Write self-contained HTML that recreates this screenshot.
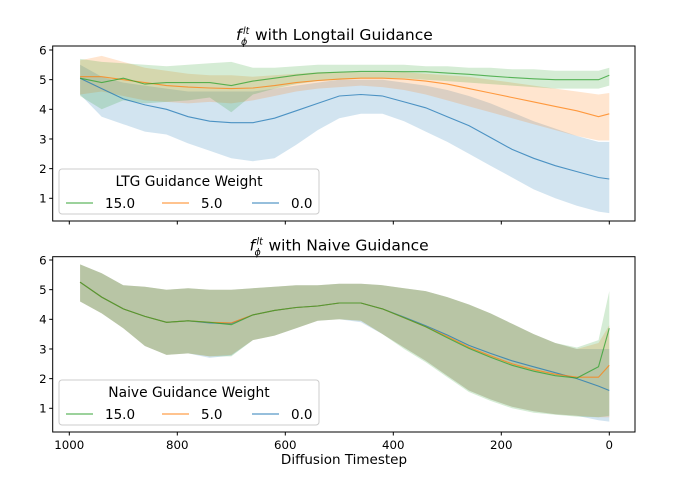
<!DOCTYPE html>
<html><head><meta charset="utf-8">
<style>
body{margin:0;background:#fff;}
svg{display:block;font-family:"DejaVu Sans","Liberation Sans",sans-serif;}
</style></head>
<body>
<svg id="chart" width="682" height="485" viewBox="0 0 682 485"></svg>
<script>
const timesteps=[980,940,900,860,820,780,740,700,660,620,580,540,500,460,420,380,340,300,260,220,180,140,100,60,20,0];
const yTicks=[1,2,3,4,5,6];
const xTicks=[1000,800,600,400,200,0];
const seriesLabels=["15.0","5.0","0.0"];
const colors=["#2ca02c","#ff7f0e","#1f77b4"];
// top panel (Longtail guidance)
const topGreenMean=[5.05,4.9,5.05,4.85,4.9,4.9,4.9,4.8,4.95,5.05,5.15,5.22,5.25,5.28,5.28,5.27,5.27,5.22,5.18,5.12,5.07,5.03,5.0,5.0,5.0,5.15];
const topGreenLo=[4.45,4.0,4.3,4.2,4.25,4.3,4.4,3.9,4.5,4.7,4.85,4.95,5.0,5.05,5.05,5.05,5.0,4.95,4.9,4.85,4.8,4.75,4.7,4.7,4.7,4.8];
const topGreenHi=[5.7,5.6,5.55,5.5,5.45,5.5,5.55,5.6,5.4,5.4,5.45,5.5,5.5,5.5,5.5,5.5,5.45,5.45,5.4,5.4,5.35,5.35,5.3,5.3,5.3,5.4];
const topOrangeMean=[5.1,5.1,5.0,4.9,4.8,4.75,4.72,4.7,4.72,4.8,4.9,4.97,5.02,5.05,5.05,5.02,4.95,4.85,4.7,4.55,4.4,4.25,4.1,3.95,3.75,3.85];
const topOrangeLo=[4.5,4.6,4.45,4.3,4.25,4.2,4.25,4.2,4.3,4.45,4.6,4.7,4.75,4.8,4.75,4.65,4.5,4.3,4.1,3.9,3.7,3.5,3.3,3.1,2.95,2.95];
const topOrangeHi=[5.65,5.8,5.6,5.4,5.3,5.2,5.15,5.15,5.1,5.15,5.2,5.25,5.25,5.25,5.25,5.25,5.2,5.15,5.1,5.0,4.9,4.8,4.7,4.6,4.5,4.55];
const topBlueMean=[5.05,4.7,4.35,4.15,4.0,3.75,3.6,3.55,3.55,3.7,3.95,4.2,4.45,4.5,4.45,4.25,4.05,3.75,3.45,3.05,2.65,2.35,2.1,1.9,1.7,1.65];
const topBlueLo=[4.5,3.75,3.5,3.25,3.15,2.85,2.6,2.35,2.25,2.35,2.8,3.3,3.7,3.85,3.85,3.6,3.25,2.9,2.5,2.1,1.7,1.3,1.0,0.75,0.55,0.5];
const topBlueHi=[5.5,5.1,4.9,4.8,4.7,4.6,4.6,4.6,4.6,4.7,4.8,4.9,5.0,5.0,5.0,4.9,4.8,4.65,4.45,4.2,3.9,3.6,3.35,3.1,2.9,2.9];
// bottom panel (Naive guidance)
const botGreenMean=[5.25,4.75,4.35,4.1,3.9,3.95,3.9,3.82,4.15,4.3,4.4,4.45,4.55,4.55,4.35,4.05,3.75,3.38,3.02,2.72,2.45,2.25,2.1,2.02,2.4,3.7];
const botGreenLo=[4.6,4.2,3.7,3.1,2.8,2.85,2.75,2.75,3.3,3.45,3.7,3.95,4.0,3.95,3.5,3.0,2.55,2.05,1.55,1.25,1.0,0.85,0.78,0.72,0.7,0.75];
const botGreenHi=[5.85,5.55,5.15,5.1,5.0,5.05,5.0,5.0,5.05,5.1,5.15,5.15,5.2,5.2,5.15,5.05,4.95,4.75,4.5,4.2,3.85,3.5,3.2,3.05,3.3,4.95];
const botOrangeMean=[5.25,4.75,4.35,4.1,3.9,3.95,3.9,3.88,4.15,4.3,4.4,4.45,4.55,4.55,4.35,4.05,3.75,3.42,3.06,2.77,2.5,2.3,2.15,2.05,2.05,2.45];
const botOrangeLo=[4.6,4.2,3.7,3.1,2.8,2.85,2.75,2.8,3.3,3.45,3.7,3.95,4.0,3.95,3.5,3.05,2.6,2.1,1.6,1.3,1.05,0.9,0.8,0.75,0.7,0.7];
const botOrangeHi=[5.85,5.55,5.15,5.1,5.0,5.05,5.0,5.0,5.05,5.1,5.15,5.15,5.2,5.2,5.15,5.05,4.95,4.75,4.5,4.2,3.85,3.5,3.2,3.0,3.2,3.8];
const botBlueMean=[5.25,4.75,4.35,4.1,3.9,3.95,3.88,3.86,4.15,4.3,4.4,4.45,4.55,4.55,4.35,4.07,3.78,3.47,3.12,2.85,2.6,2.4,2.2,2.0,1.75,1.6];
const botBlueLo=[4.6,4.2,3.7,3.1,2.8,2.85,2.7,2.78,3.3,3.45,3.7,3.95,4.0,3.9,3.5,3.05,2.6,2.1,1.6,1.3,1.05,0.9,0.8,0.75,0.6,0.55];
const botBlueHi=[5.85,5.55,5.15,5.1,5.0,5.05,5.0,5.0,5.05,5.1,5.15,5.15,5.2,5.2,5.15,5.05,4.95,4.75,4.5,4.2,3.85,3.5,3.2,3.0,3.0,3.0];

const NS="http://www.w3.org/2000/svg";
const svg=document.getElementById("chart");
function mk(tag,attrs,parent){const e=document.createElementNS(NS,tag);for(const k in attrs)e.setAttribute(k,attrs[k]);(parent||svg).appendChild(e);return e;}
const X0=52.7,X1=635;
function xScale(t){return 609.3+(69.3-609.3)*t/1000;}

function panel(name,top,bottom,yAt1,title,legendTitle,means,los,his,showXLabels){
  const g=mk("g",{});
  
  
  const yScale=v=>yAt1-(v-1)*29.66;
  const order=[2,1,0];
  for(const i of order){
    let d="";
    timesteps.forEach((t,j)=>{d+=(j?"L":"M")+xScale(t).toFixed(1)+","+yScale(his[i][j]).toFixed(1);});
    for(let j=timesteps.length-1;j>=0;j--)d+="L"+xScale(timesteps[j]).toFixed(1)+","+yScale(los[i][j]).toFixed(1);
    const b=mk("path",{d:d+"Z",fill:colors[i],"fill-opacity":0.2,stroke:"none"},g);
    
    
  }
  for(const i of order){
    const pts=timesteps.map((t,j)=>xScale(t).toFixed(1)+","+yScale(means[i][j]).toFixed(1)).join(" ");
    const l=mk("polyline",{points:pts,fill:"none",stroke:colors[i],"stroke-width":1.1,"stroke-opacity":0.75},g);
    
    
  }
  mk("rect",{x:X0,y:top,width:X1-X0,height:bottom-top,fill:"none",stroke:"#000","stroke-width":1},g);
  yTicks.forEach(v=>{
    const y=yScale(v);
    mk("line",{x1:X0-3.5,x2:X0,y1:y,y2:y,stroke:"#000"},g);
    const tx=mk("text",{x:X0-6,y:y+4.3,"text-anchor":"end","font-size":11.8,fill:"#000"},g);
    tx.textContent=v;
    
    
  });
  xTicks.forEach(v=>{
    const x=xScale(v);
    mk("line",{x1:x,x2:x,y1:bottom,y2:bottom+3.5,stroke:"#000"},g);
    if(showXLabels){
      const tx=mk("text",{x:x,y:bottom+17,"text-anchor":"middle","font-size":11.8,fill:"#000"},g);
      tx.textContent=v;
      
      
    }
  });
  const tg=mk("g",{},g);
  
  
  const tw=title.length*9.0;
  const sx=344-(tw+18)/2;
  const f=mk("text",{x:sx,y:top-6,"font-size":15.5,"font-style":"italic"},tg); f.textContent="f";
  const sup=mk("text",{x:sx+7,y:top-12,"font-size":9.5,"font-style":"italic"},tg); sup.textContent="lt";
  const sub=mk("text",{x:sx+5,y:top-1,"font-size":9.5,"font-style":"italic"},tg); sub.textContent="ϕ";
  const main=mk("text",{x:sx+19,y:top-6,"font-size":15.5},tg); main.textContent=title;
  const lt=bottom-52,lg=mk("g",{},g);
  
  
  mk("rect",{x:59,y:lt,width:260,height:45,rx:3,fill:"#fff","fill-opacity":0.8,stroke:"#ccc"},lg);
  const ltx=mk("text",{x:189,y:lt+17,"text-anchor":"middle","font-size":13.8},lg);
  ltx.textContent=legendTitle;
  const xs=[66,162,252];
  seriesLabels.forEach((s,i)=>{
    const e=mk("g",{},lg);
    
    
    mk("line",{x1:xs[i],x2:xs[i]+27,y1:lt+34,y2:lt+34,stroke:colors[i],"stroke-opacity":0.75,"stroke-width":1.2},e);
    const t=mk("text",{x:xs[i]+39,y:lt+39,"font-size":13.5},e);
    t.textContent=s;
  });
}
panel("top-panel",46,221,198.3,"with Longtail Guidance","LTG Guidance Weight",
 [topGreenMean,topOrangeMean,topBlueMean],[topGreenLo,topOrangeLo,topBlueLo],[topGreenHi,topOrangeHi,topBlueHi],false);
panel("bottom-panel",256.7,432,408.3,"with Naive Guidance","Naive Guidance Weight",
 [botGreenMean,botOrangeMean,botBlueMean],[botGreenLo,botOrangeLo,botBlueLo],[botGreenHi,botOrangeHi,botBlueHi],true);
const xl=mk("text",{x:344,y:464,"text-anchor":"middle","font-size":13.5});
xl.textContent="Diffusion Timestep";


</script>
</body></html>
